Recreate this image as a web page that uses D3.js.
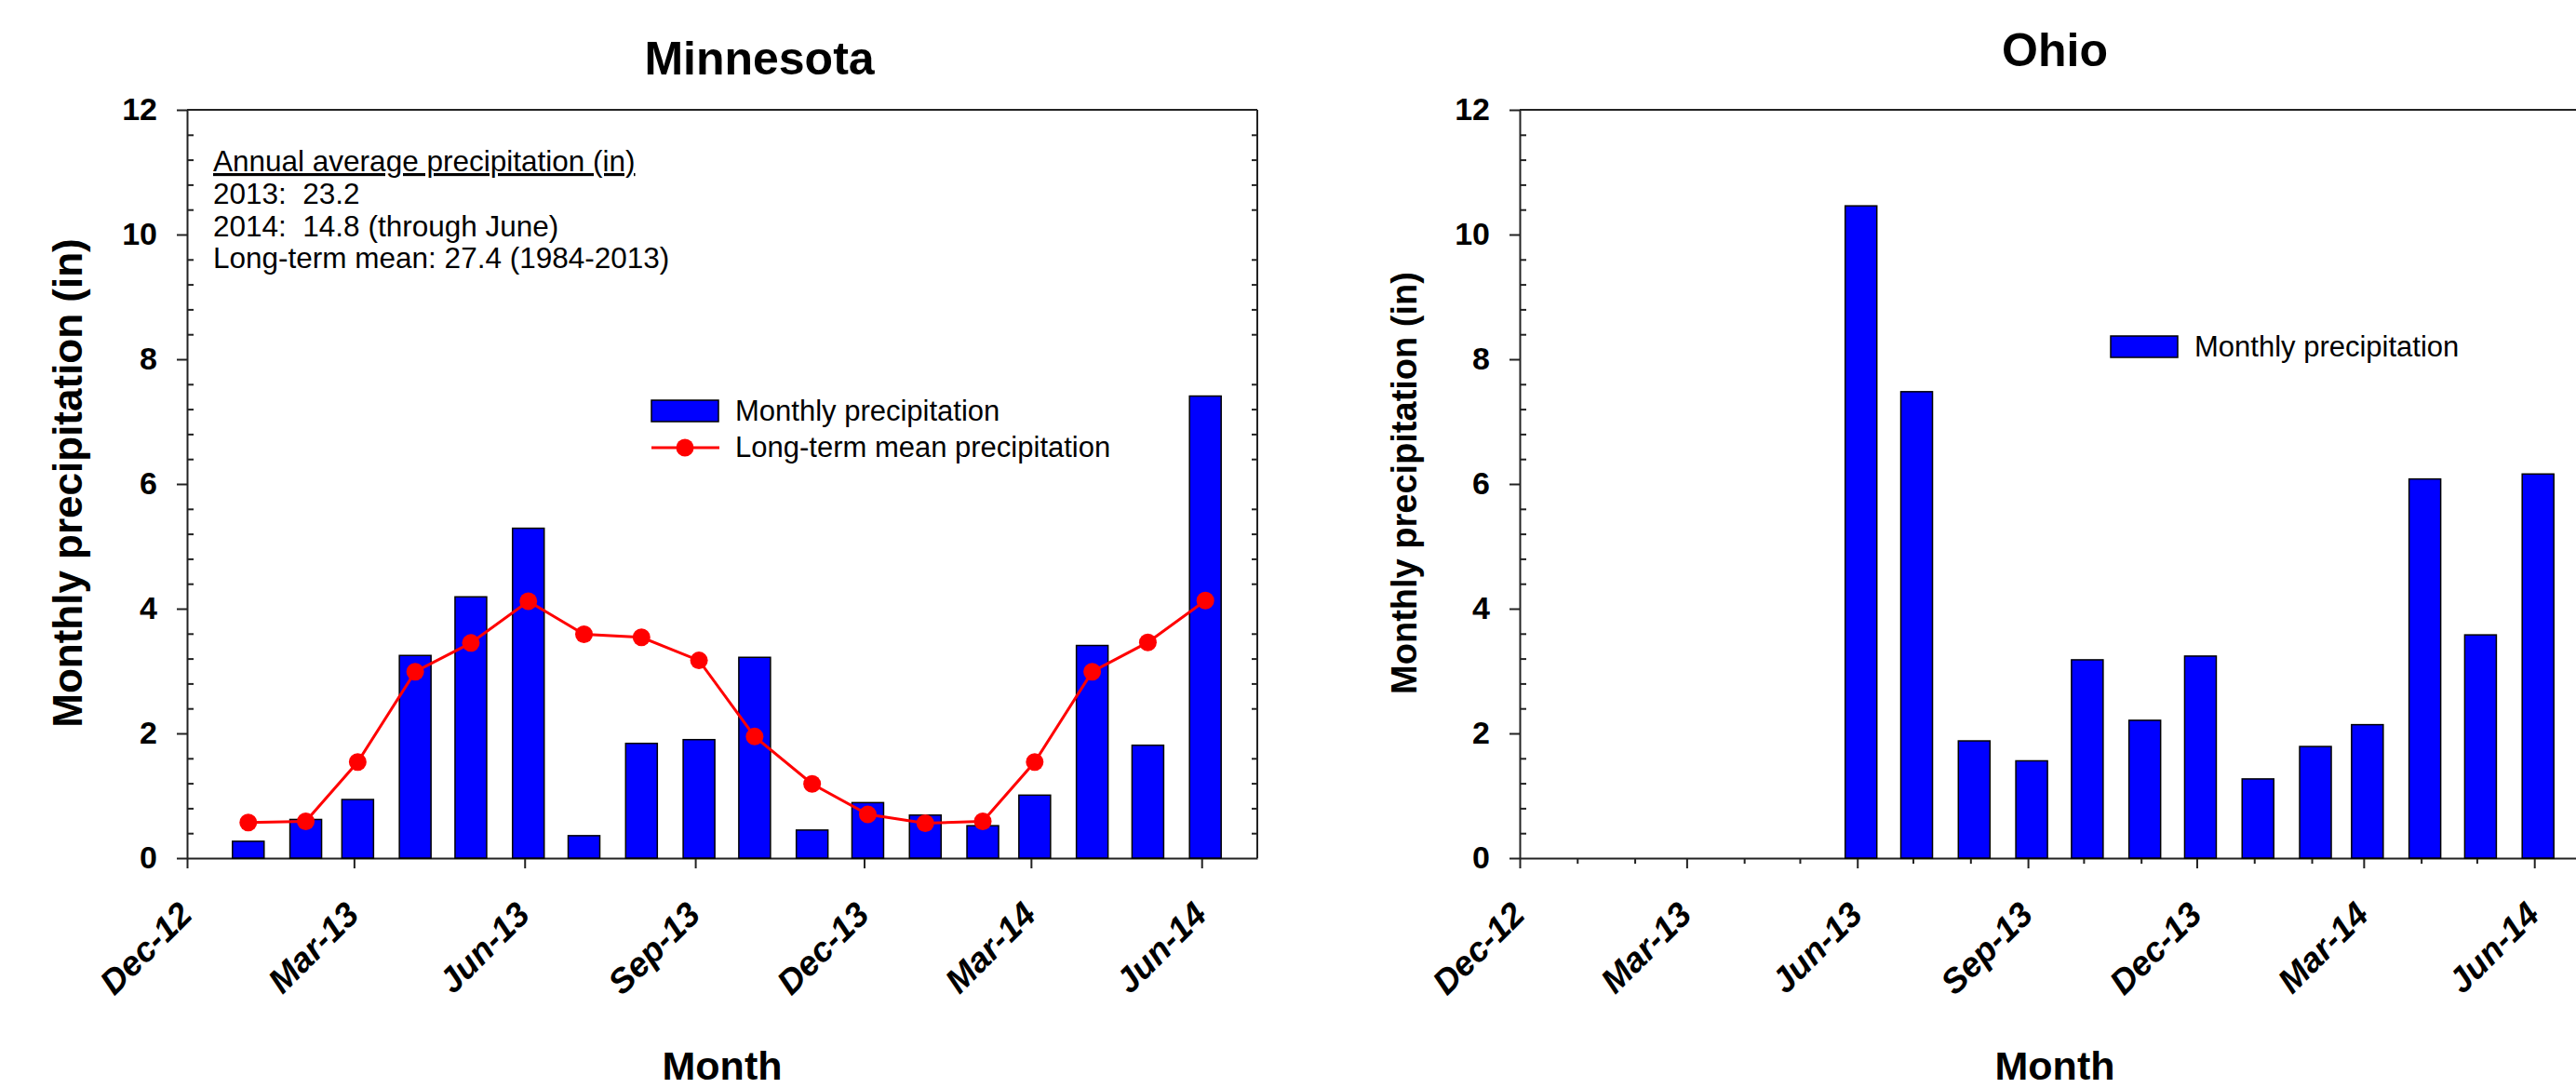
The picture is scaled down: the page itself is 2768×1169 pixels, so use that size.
<!DOCTYPE html>
<html>
<head>
<meta charset="utf-8">
<script src="https://cdn.jsdelivr.net/npm/d3@7"></script>
<style>
  body { margin: 0; background: #fff; }
  svg { display: block; font-family: Arial, "Liberation Sans", sans-serif; }
</style>
</head>
<body>
<svg id="chart" width="2768" height="1169"></svg>
<script>
// Minnesota, Jan 2013 - Jun 2014
const mnMonths = ["2013-01", "2013-02", "2013-03", "2013-04", "2013-05", "2013-06",
  "2013-07", "2013-08", "2013-09", "2013-10", "2013-11", "2013-12",
  "2014-01", "2014-02", "2014-03", "2014-04", "2014-05", "2014-06"];
const mnMonthly = [0.27, 0.62, 0.94, 3.25, 4.19, 5.29, 0.36, 1.84, 1.90, 3.22, 0.45, 0.89,
  0.69, 0.52, 1.01, 3.41, 1.81, 7.41];
const mnLongTermMean = [0.57, 0.59, 1.54, 2.99, 3.45, 4.12, 3.59, 3.54, 3.17, 1.95, 1.19, 0.70,
  0.56, 0.59, 1.54, 2.99, 3.46, 4.13];

// Ohio, Jun 2013 - Jun 2014
const ohMonths = ["2013-06", "2013-07", "2013-08", "2013-09", "2013-10", "2013-11", "2013-12",
  "2014-01", "2014-02", "2014-03", "2014-04", "2014-05", "2014-06"];
const ohMonthly = [10.46, 7.48, 1.88, 1.56, 3.18, 2.21, 3.24, 1.27, 1.79, 2.14, 6.08, 3.58, 6.16];

const xTickLabels = ["Dec-12", "Mar-13", "Jun-13", "Sep-13", "Dec-13", "Mar-14", "Jun-14"];
const xRange = ["Dec-12", "Jul-14"];
const yTicks = [0, 2, 4, 6, 8, 10, 12];
const mnNotes = ["Annual average precipitation (in)", "2013:  23.2",
  "2014:  14.8 (through June)", "Long-term mean: 27.4 (1984-2013)"];

const parseMonth = d3.timeParse("%Y-%m");
const parseTick = d3.timeParse("%b-%y");
const fmtTick = d3.timeFormat("%b-%y");

const svg = d3.select("#chart");
const AXIS = "#222";

function drawPanel(cfg) {
  const x = d3.scaleTime().domain(xRange.map(parseTick)).range([cfg.left, cfg.left + 1150]);
  const y = d3.scaleLinear().domain([0, 12]).range([922, 118]);
  const g = svg.append("g");
  const right = x.range()[1];

  // top and right frame
  g.append("line").attr("x1", cfg.left).attr("x2", right).attr("y1", y(12)).attr("y2", y(12))
    .attr("stroke", AXIS).attr("stroke-width", 2);
  g.append("line").attr("x1", right).attr("x2", right).attr("y1", y(12)).attr("y2", y(0))
    .attr("stroke", AXIS).attr("stroke-width", 2);

  // minor y ticks (every 0.4), inside
  const minor = d3.range(1, 30).map(i => +(i * 0.4).toFixed(1)).filter(v => Math.abs(v / 2 - Math.round(v / 2)) > 1e-6);
  g.append("g").attr("transform", `translate(${cfg.left},0)`)
    .call(d3.axisLeft(y).tickValues(minor).tickSize(-7).tickFormat(""))
    .call(a => a.select(".domain").remove())
    .selectAll("line").attr("stroke", AXIS).attr("stroke-width", 2);
  g.append("g").attr("transform", `translate(${right},0)`)
    .call(d3.axisRight(y).tickValues(minor).tickSize(-6).tickFormat(""))
    .call(a => a.select(".domain").remove())
    .selectAll("line").attr("stroke", AXIS).attr("stroke-width", 2);

  // left axis
  const ya = g.append("g").attr("transform", `translate(${cfg.left},0)`)
    .call(d3.axisLeft(y).tickValues(yTicks).tickSize(11).tickSizeOuter(0).tickPadding(21));
  ya.select(".domain").attr("stroke", AXIS).attr("stroke-width", 2);
  ya.selectAll("line").attr("stroke", AXIS).attr("stroke-width", 2);
  ya.selectAll("text").attr("font-family", "Arial, 'Liberation Sans', sans-serif")
    .attr("font-size", 34).attr("font-weight", "bold").attr("fill", "#000");

  // bottom axis
  if (cfg.minorX) {
    const majors = xTickLabels.map(parseTick).map(d => +d);
    const months = d3.timeMonth.range(x.domain()[0], x.domain()[1]).filter(d => !majors.includes(+d));
    g.append("g").attr("transform", `translate(0,${y(0)})`)
      .call(d3.axisBottom(x).tickValues(months).tickSize(6).tickFormat(""))
      .call(a => a.select(".domain").remove())
      .selectAll("line").attr("stroke", AXIS).attr("stroke-width", 2);
  }
  const xa = g.append("g").attr("transform", `translate(0,${y(0)})`)
    .call(d3.axisBottom(x).tickValues(xTickLabels.map(parseTick)).tickSize(11)
      .tickSizeOuter(0).tickFormat(fmtTick));
  xa.select(".domain").attr("stroke", AXIS).attr("stroke-width", 2);
  xa.selectAll("line").attr("stroke", AXIS).attr("stroke-width", 2);
  xa.selectAll("text")
    .attr("y", 0).attr("dy", null)
    .attr("transform", "translate(7,63) rotate(-45)")
    .attr("text-anchor", "end")
    .attr("font-family", "Arial, 'Liberation Sans', sans-serif")
    .attr("font-size", 37).attr("font-weight", "bold").attr("font-style", "italic")
    .attr("fill", "#000");

  // bars
  const bars = cfg.months.map((m, i) => ({ date: d3.timeDay.offset(parseMonth(m), 2), value: cfg.monthly[i] }));
  g.append("g").selectAll("rect").data(bars).enter().append("rect")
    .attr("x", d => x(d.date) - 17)
    .attr("y", d => y(d.value))
    .attr("width", 34)
    .attr("height", d => y(0) - y(d.value))
    .attr("fill", "#0000ff")
    .attr("stroke", "#000")
    .attr("stroke-width", 1.5);

  // long-term mean line
  if (cfg.mean) {
    const pts = cfg.months.map((m, i) => ({ date: d3.timeDay.offset(parseMonth(m), 2), value: cfg.mean[i] }));
    g.append("path").datum(pts)
      .attr("d", d3.line().x(d => x(d.date)).y(d => y(d.value)))
      .attr("fill", "none").attr("stroke", "#ff0000").attr("stroke-width", 3);
    g.append("g").selectAll("circle").data(pts).enter().append("circle")
      .attr("cx", d => x(d.date)).attr("cy", d => y(d.value)).attr("r", 9.5)
      .attr("fill", "#ff0000");
  }

  // titles
  g.append("text").attr("x", cfg.titleX).attr("y", cfg.titleY).attr("text-anchor", "middle")
    .attr("font-size", 50).attr("font-weight", "bold").text(cfg.title);
  g.append("text").attr("x", (cfg.left + right) / 2).attr("y", 1160).attr("text-anchor", "middle")
    .attr("font-size", 43).attr("font-weight", "bold").text("Month");
  g.append("text").attr("transform", `translate(${cfg.yLabelX},519) rotate(-90)`)
    .attr("text-anchor", "middle").attr("font-size", cfg.yLabelSize).attr("font-weight", "bold")
    .text("Monthly precipitation (in)");

  // legend
  const lg = g.append("g").attr("transform", `translate(${cfg.legend[0]},${cfg.legend[1]})`);
  lg.append("rect").attr("x", 0).attr("y", 0).attr("width", 72).attr("height", 23)
    .attr("fill", "#0000ff").attr("stroke", "#000").attr("stroke-width", 1.5);
  lg.append("text").attr("x", 90).attr("y", 22).attr("font-size", 31).text("Monthly precipitation");
  if (cfg.mean) {
    lg.append("line").attr("x1", 0).attr("x2", 73).attr("y1", 51).attr("y2", 51)
      .attr("stroke", "#ff0000").attr("stroke-width", 3);
    lg.append("circle").attr("cx", 36).attr("cy", 51).attr("r", 9.5).attr("fill", "#ff0000");
    lg.append("text").attr("x", 90).attr("y", 61).attr("font-size", 31).text("Long-term mean precipitation");
  }
  return g;
}

const mn = drawPanel({
  left: 201, months: mnMonths, monthly: mnMonthly, mean: mnLongTermMean,
  title: "Minnesota", titleX: 816, titleY: 80, yLabelX: 88, yLabelSize: 44,
  legend: [700, 430], minorX: false
});

// annotation block
const notes = mn.append("g");
notes.selectAll("text").data(mnNotes).enter().append("text")
  .attr("x", 229).attr("y", (d, i) => 184 + i * 34.8)
  .attr("font-size", 31.5)
  .style("white-space", "pre")
  .attr("text-decoration", (d, i) => i === 0 ? "underline" : null)
  .text(d => d);

drawPanel({
  left: 1633, months: ohMonths, monthly: ohMonthly, mean: null,
  title: "Ohio", titleX: 2208, titleY: 71, yLabelX: 1522, yLabelSize: 38,
  legend: [2268, 361], minorX: true
});
</script>
</body>
</html>
